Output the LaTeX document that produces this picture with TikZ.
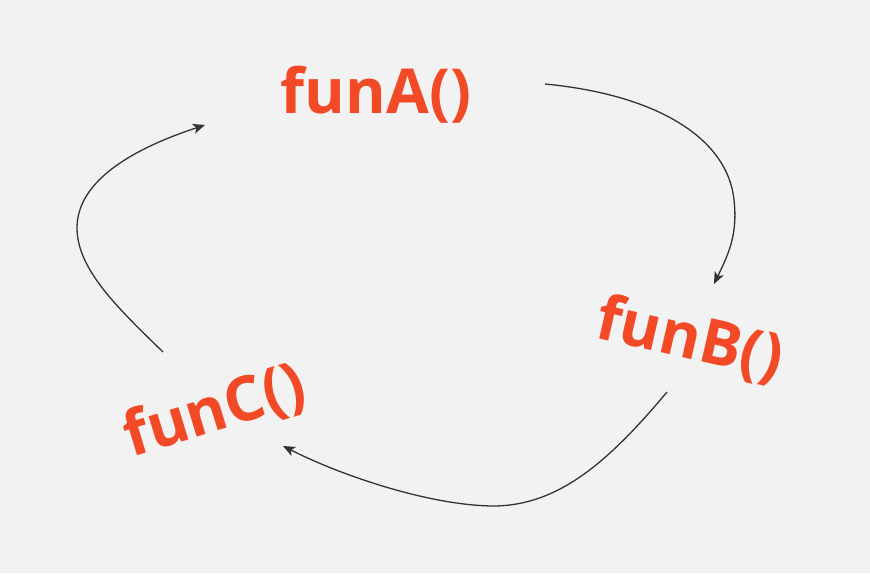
\documentclass[tikz,border=0pt]{standalone}
\usepackage{fontspec}
\setmainfont{Open Sans}
\usetikzlibrary{arrows.meta}
\definecolor{bgray}{HTML}{F2F2F2}
\definecolor{funred}{HTML}{F24A26}
\definecolor{arrgray}{HTML}{333333}
\tikzset{
  fun/.style={text=funred, font=\fontsize{62}{62}\selectfont\bfseries, inner sep=0pt},
  flow/.style={draw=arrgray, line width=1.3pt, -{Stealth[length=12pt,width=10pt,inset=3pt]}}
}

\begin{document}
\begin{tikzpicture}[x=1pt, y=-1pt]
                \fill[bgray] (0,0) rectangle (870,573);
                \useasboundingbox (0,0) rectangle (870,573);
                \node[fun] (a) at (376,95) {funA()};
                \node[fun, rotate=-13] (b) at (690,340) {funB()};
                \node[fun, rotate=17] (c) at (215,412) {funC()};
                \coordinate (aout) at (545,84);
                \coordinate (bin) at (714,284);
                \coordinate (bout) at (667,392);
                \coordinate (cin) at (283,446);
                \coordinate (cout) at (163,352);
                \coordinate (ain) at (205,125);
                \draw[flow] (aout) .. controls (660,95) and (728,140) .. (734,200) .. controls (738,235) and (728,255) .. (bin);
                \draw[flow] (bout) .. controls (610,460) and (560,505) .. (495,506) .. controls (430,506) and (340,475) .. (cin);
                \draw[flow] (cout) .. controls (120,310) and (77,270) .. (77,228) .. controls (77,180) and (135,148) .. (ain);
            \end{tikzpicture}
\end{document}
